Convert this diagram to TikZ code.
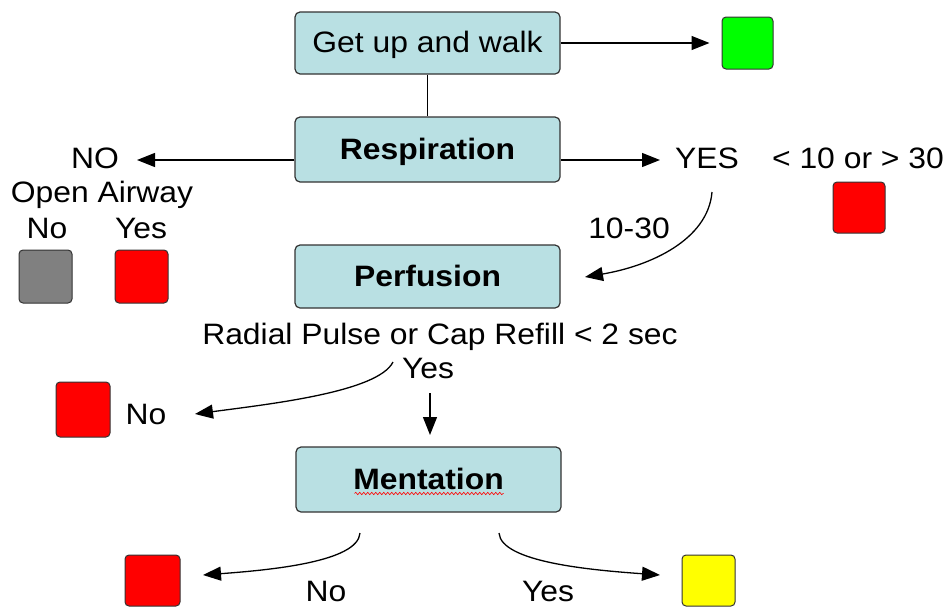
\documentclass[tikz,border=0pt]{standalone}
\usepackage{fontspec}
\setmainfont{Liberation Sans}[FakeStretch=1.08]
\usetikzlibrary{arrows.meta,decorations.pathmorphing}
\definecolor{boxfill}{HTML}{B9E0E3}
\definecolor{sqred}{HTML}{FF0000}
\definecolor{sqgreen}{HTML}{00FF00}
\definecolor{sqyellow}{HTML}{FFFF00}
\definecolor{sqgray}{HTML}{808080}
\definecolor{edge}{HTML}{333333}
\begin{document}
\begin{tikzpicture}[x=1pt,y=-1pt,
  txt/.style={font=\fontsize{29.5}{34}\selectfont, inner sep=0pt, anchor=base},
  box/.style={draw=edge, line width=1.2pt, rounded corners=5pt, fill=boxfill,
    minimum width=265pt, minimum height=64pt, font=\fontsize{29.5}{34}\selectfont\bfseries,
    text height=21pt, text depth=2pt, inner sep=0pt},
  sq/.style={draw=edge, line width=1pt, rounded corners=4pt, minimum width=53pt,
    minimum height=53pt, inner sep=0pt},
  arr/.style={line width=1.3pt, -{Triangle[length=18pt,width=14pt]}},
  ln/.style={line width=1.3pt}]
\useasboundingbox (0,0) rectangle (952,608);

% main boxes
\node[box, font=\fontsize{29.5}{34}\selectfont, minimum height=62pt] (walk) at (427.5,43) {Get up and walk};
\node[box, minimum height=65pt] (resp) at (427.5,149.5) {Respiration};
\node[box, minimum height=63pt] (perf) at (427.5,276.5) {Perfusion};
\node[box, minimum height=65pt] (ment) at (428.5,479.5) {Mentation};

% squares
\node[sq, fill=sqgreen, minimum width=51pt, minimum height=52pt] (green) at (747.5,43) {};
\node[sq, fill=sqred, minimum width=52pt, minimum height=51pt] (redR) at (859,207.5) {};
\node[sq, fill=sqgray] (gray) at (45.5,276.5) {};
\node[sq, fill=sqred] (redL) at (141.5,276.5) {};
\node[sq, fill=sqred, minimum width=54pt, minimum height=55pt] (redP) at (83,409.5) {};
\node[sq, fill=sqred, minimum width=55pt, minimum height=51pt] (redM) at (152.5,580.5) {};
\node[sq, fill=sqyellow, minimum width=53pt, minimum height=51pt] (yellow) at (708.5,580.5) {};

% labels
\node[txt] (yes) at (707,168) {YES};
\node[txt] (no) at (95,168) {NO};
\node[txt] (range) at (858,168) {< 10 or > 30};
\node[txt] (open) at (102,202) {Open Airway};
\node[txt] (openNo) at (47,238) {No};
\node[txt] (openYes) at (141,238) {Yes};
\node[txt] (norm) at (629,238) {10-30};
\node[txt] (radial) at (440,344) {Radial Pulse or Cap Refill < 2 sec};
\node[txt] (pYes) at (428,378) {Yes};
\node[txt] (pNo) at (146,424) {No};
\node[txt] (mNo) at (326,601) {No};
\node[txt] (mYes) at (548,601) {Yes};

% spell-check underline
\draw[red, line width=0.6pt, decorate, decoration={snake, amplitude=1.2pt, segment length=4pt}]
  ([xshift=-74pt, yshift=-14pt]ment.center) -- ([xshift=75pt, yshift=-14pt]ment.center);

% connector end points
\coordinate (yesTip) at (660,160);
\coordinate (noTip) at (137,160);
\coordinate (c1s) at (712,192);
\coordinate (c1e) at (585,277);
\coordinate (c2s) at (393,362);
\coordinate (c2e) at (195,414);
\coordinate (dS) at (430,393);
\coordinate (dE) at (430,435);
\coordinate (c3s) at (360,533);
\coordinate (c3e) at (203,575);
\coordinate (c4s) at (499,533);
\coordinate (c4e) at (660,575);

% connectors
\draw[arr, shorten >=12pt] (walk) -- (green);
\draw[ln] (walk) -- (resp);
\draw[arr] ([yshift=-10.5pt]resp.east) -- (yesTip);
\draw[arr] ([yshift=-10.5pt]resp.west) -- (noTip);
\draw[arr] (c1s) .. controls (708,240) and (650,266) .. (c1e);
\draw[arr] (c2s) .. controls (378,392) and (270,404) .. (c2e);
\draw[arr] (dS) -- (dE);
\draw[arr] (c3s) .. controls (358,562) and (270,570) .. (c3e);
\draw[arr] (c4s) .. controls (501,562) and (590,570) .. (c4e);
\end{tikzpicture}
\end{document}
